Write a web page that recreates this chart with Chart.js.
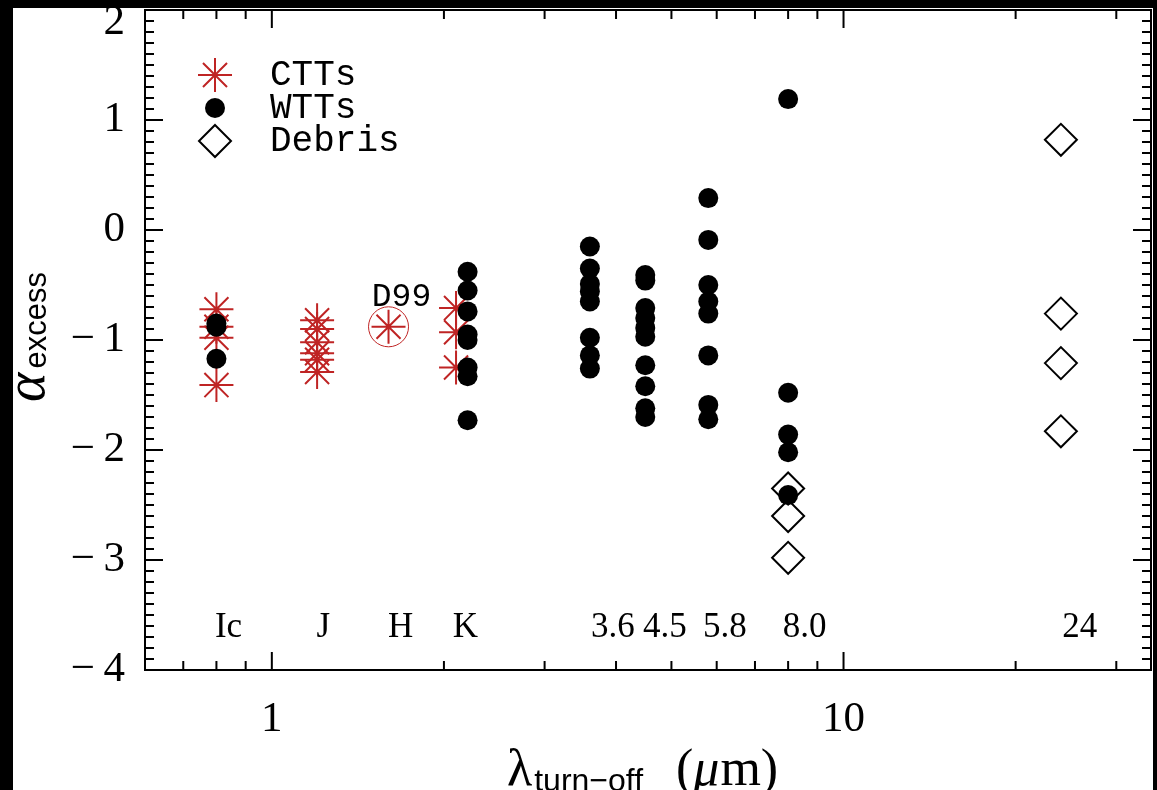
<!DOCTYPE html>
<html lang="en">
<head>
    <meta charset="UTF-8">
    <title>alpha excess vs turn-off wavelength</title>
    <script src="https://cdn.jsdelivr.net/npm/chart.js"></script>
    <style>
        body { margin: 0; background: #000; }
        #wrap { position: absolute; left: 13px; top: 8px; width: 1140px; height: 782px; background: #fff; }
        canvas { display: block; }
    </style>
</head>
<body>
<div id="wrap"><canvas id="graph" width="1140" height="782"></canvas></div>
<script>
    // CTTs (red asterisks)
    let ctt_x = [0.8, 0.8, 0.8, 0.8, 1.2, 1.2, 1.2, 1.2, 1.2, 1.2, 2.1, 2.1, 2.1];
    let ctt_y = [-0.72, -0.88, -0.98, -1.41, -0.82, -0.9, -1.02, -1.12, -1.18, -1.29, -0.71, -0.93, -1.25];
    // D99 (H band, circled)
    let d99_x = [1.6];
    let d99_y = [-0.88];
    // WTTs (black dots)
    let wtt_x = [0.8, 0.8, 0.8,
        2.2, 2.2, 2.2, 2.2, 2.2, 2.2, 2.2, 2.2,
        3.6, 3.6, 3.6, 3.6, 3.6, 3.6, 3.6, 3.6,
        4.5, 4.5, 4.5, 4.5, 4.5, 4.5, 4.5, 4.5, 4.5, 4.5,
        5.8, 5.8, 5.8, 5.8, 5.8, 5.8, 5.8, 5.8,
        8.0, 8.0, 8.0, 8.0, 8.0];
    let wtt_y = [-0.85, -0.88, -1.17,
        -0.38, -0.55, -0.74, -0.95, -1.0, -1.25, -1.33, -1.73,
        -0.15, -0.35, -0.49, -0.56, -0.65, -0.98, -1.14, -1.26,
        -0.41, -0.46, -0.71, -0.8, -0.89, -0.97, -1.23, -1.42, -1.62, -1.70,
        0.29, -0.09, -0.5, -0.65, -0.76, -1.14, -1.59, -1.72,
        1.19, -1.48, -1.86, -2.02, -2.41];
    // Debris (open diamonds)
    let deb_x = [8.0, 8.0, 8.0, 24, 24, 24, 24];
    let deb_y = [-2.35, -2.6, -2.98, 0.82, -0.76, -1.21, -1.83];

    // band names written inside the plot
    let band_names = ['Ic', 'J', 'H', 'K', '3.6', '4.5', '5.8', '8.0', '24'];
    let band_pos = [0.84, 1.23, 1.68, 2.18, 3.95, 4.87, 6.2, 8.55, 25.9];
    let band_row = -3.62;

    let x_major = [1, 10];
    let x_minor = [0.7, 0.8, 0.9, 2, 3, 4, 5, 6, 7, 8, 9, 20, 30];
    let y_major = [-4, -3, -2, -1, 0, 1, 2];

    const RED = '#bf2424';
    const SERIF = '"Liberation Serif", "DejaVu Serif", serif';
    const MONO = '"Liberation Mono", "DejaVu Sans Mono", monospace';
    const SANS = '"Liberation Sans", "DejaVu Sans", sans-serif';

    function pts(xs, ys) {
        return xs.map((v, i) => ({x: v, y: ys[i]}));
    }

    function star(ctx, x, y, r) {
        ctx.beginPath();
        for (let k = 0; k < 4; k++) {
            let a = k * Math.PI / 4;
            ctx.moveTo(x - Math.cos(a) * r, y - Math.sin(a) * r);
            ctx.lineTo(x + Math.cos(a) * r, y + Math.sin(a) * r);
        }
        ctx.stroke();
    }

    const decor = {
        id: 'decor',
        afterDatasetsDraw(chart) {
            const ctx = chart.ctx;
            const a = chart.chartArea;
            const sx = chart.scales.x, sy = chart.scales.y;
            ctx.save();

            // frame + inward ticks
            ctx.strokeStyle = '#000';
            ctx.lineWidth = 2;
            ctx.strokeRect(a.left, a.top, a.right - a.left, a.bottom - a.top);
            ctx.beginPath();
            for (let i = -40; i <= 20; i++) {
                let py = sy.getPixelForValue(i / 10);
                let len = i % 10 === 0 ? 18 : 9;
                ctx.moveTo(a.left, py); ctx.lineTo(a.left + len, py);
                ctx.moveTo(a.right, py); ctx.lineTo(a.right - len, py);
            }
            x_major.concat(x_minor).forEach(v => {
                let px = sx.getPixelForValue(v);
                let len = x_major.includes(v) ? 18 : 9;
                ctx.moveTo(px, a.bottom); ctx.lineTo(px, a.bottom - len);
                ctx.moveTo(px, a.top); ctx.lineTo(px, a.top + len);
            });
            ctx.stroke();

            // tick labels
            ctx.fillStyle = '#000';
            ctx.font = '43px ' + SERIF;
            ctx.textAlign = 'right';
            ctx.textBaseline = 'middle';
            y_major.forEach(v => {
                let py = Math.max(sy.getPixelForValue(v), a.top + 13);
                let txt = v < 0 ? '\u2212\u2009' + Math.abs(v) : String(v);
                ctx.fillText(txt, a.left - 20, py);
            });
            ctx.textAlign = 'center';
            x_major.forEach(v => {
                ctx.fillText(String(v), sx.getPixelForValue(v), a.bottom + 50);
            });

            // band names
            ctx.font = '35px ' + SERIF;
            band_names.forEach((t, i) => {
                ctx.fillText(t, sx.getPixelForValue(band_pos[i]), sy.getPixelForValue(band_row));
            });

            // D99 label
            ctx.font = '33px ' + MONO;
            ctx.fillText('D99', sx.getPixelForValue(d99_x[0]) + 13, sy.getPixelForValue(d99_y[0]) - 30);

            // legend
            let lx = 202, ly = [67, 100, 133];
            ctx.strokeStyle = RED;
            ctx.lineWidth = 2;
            star(ctx, lx, ly[0], 17);
            ctx.fillStyle = '#000';
            ctx.beginPath();
            ctx.arc(lx, ly[1], 10, 0, Math.PI * 2);
            ctx.fill();
            ctx.strokeStyle = '#000';
            ctx.beginPath();
            ctx.moveTo(lx, ly[2] - 16); ctx.lineTo(lx + 16, ly[2]);
            ctx.lineTo(lx, ly[2] + 16); ctx.lineTo(lx - 16, ly[2]);
            ctx.closePath();
            ctx.stroke();
            ctx.font = '36px ' + MONO;
            ctx.textAlign = 'left';
            ['CTTs', 'WTTs', 'Debris'].forEach((t, i) => ctx.fillText(t, 257, ly[i]));

            // x title
            ctx.textBaseline = 'alphabetic';
            ctx.font = '52px ' + SERIF;
            ctx.fillText('\u03bb', 494, 777);
            let w = ctx.measureText('\u03bb').width;
            ctx.font = '32px ' + SANS;
            ctx.fillText('turn\u2212off', 494 + w + 2, 783);
            ctx.font = '52px ' + SERIF;
            ctx.fillText('(', 663, 777);
            let w1 = ctx.measureText('(').width;
            ctx.font = 'italic 52px ' + SERIF;
            ctx.fillText('\u03bc', 663 + w1, 777);
            let w2 = ctx.measureText('\u03bc').width;
            ctx.font = '52px ' + SERIF;
            ctx.fillText('m)', 663 + w1 + w2 + 1, 777);

            // y title
            ctx.translate(31, 394);
            ctx.rotate(-Math.PI / 2);
            ctx.font = 'italic 56px ' + SERIF;
            ctx.fillText('\u03b1', 0, 0);
            let wa = ctx.measureText('\u03b1').width;
            ctx.font = '31px ' + SANS;
            ctx.fillText('excess', wa + 4, 2);

            ctx.restore();
        }
    };

    let chart = new Chart(document.getElementById('graph'), {
        type: 'scatter',
        data: {
            datasets: [
                {
                    label: 'WTTs',
                    data: pts(wtt_x, wtt_y),
                    pointStyle: 'circle',
                    pointRadius: 10,
                    backgroundColor: '#000',
                    borderColor: '#000',
                    borderWidth: 0,
                    order: 0,
                },
                {
                    label: 'Debris',
                    data: pts(deb_x, deb_y),
                    pointStyle: 'rectRot',
                    pointRadius: 16,
                    backgroundColor: 'rgba(0,0,0,0)',
                    borderColor: '#000',
                    borderWidth: 2,
                    order: 1,
                },
                {
                    label: 'CTTs',
                    data: pts(ctt_x, ctt_y).concat(pts(d99_x, d99_y)),
                    pointStyle: 'star',
                    pointRadius: 17,
                    borderColor: RED,
                    backgroundColor: RED,
                    borderWidth: 2,
                    order: 2,
                },
                {
                    label: 'D99 ring',
                    data: pts(d99_x, d99_y),
                    pointStyle: 'circle',
                    pointRadius: 20,
                    backgroundColor: 'rgba(0,0,0,0)',
                    borderColor: RED,
                    borderWidth: 1,
                    order: 3,
                },
            ],
        },
        options: {
            responsive: false,
            animation: false,
            layout: {autoPadding: false, padding: {top: 2, right: 2, left: 0, bottom: 0}},
            plugins: {
                legend: {display: false},
                tooltip: {enabled: false},
            },
            scales: {
                x: {
                    type: 'logarithmic',
                    min: 0.6,
                    max: 34.5,
                    grid: {display: false},
                    border: {display: false},
                    ticks: {display: false},
                    afterFit: s => { s.height = 120; },
                },
                y: {
                    min: -4,
                    max: 2,
                    grid: {display: false},
                    border: {display: false},
                    ticks: {display: false},
                    afterFit: s => { s.width = 132; },
                },
            },
        },
        plugins: [decor],
    });
</script>
</body>
</html>
